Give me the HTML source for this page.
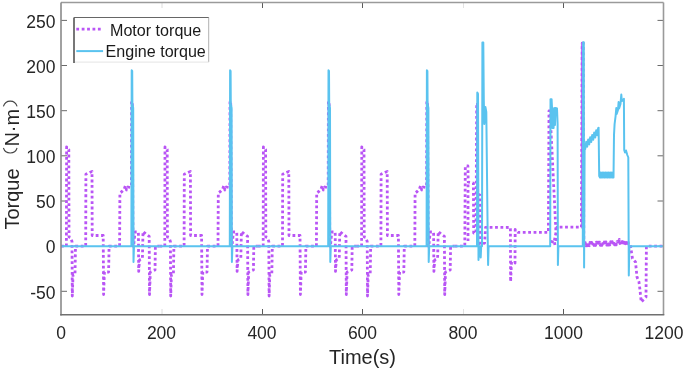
<!DOCTYPE html>
<html><head><meta charset="utf-8"><style>
html,body{margin:0;padding:0;background:#fff;width:685px;height:371px;overflow:hidden}
svg{display:block;filter:blur(0.4px)}
</style></head><body>
<svg width="685" height="371" viewBox="0 0 685 371">
<rect width="685" height="371" fill="#fff"/>
<g stroke="#6a6a6a" stroke-width="1">
<line x1="61" y1="20.4" x2="67" y2="20.4"/>
<line x1="657.5" y1="20.4" x2="663.5" y2="20.4"/>
<line x1="61" y1="65.5" x2="67" y2="65.5"/>
<line x1="657.5" y1="65.5" x2="663.5" y2="65.5"/>
<line x1="61" y1="110.7" x2="67" y2="110.7"/>
<line x1="657.5" y1="110.7" x2="663.5" y2="110.7"/>
<line x1="61" y1="155.8" x2="67" y2="155.8"/>
<line x1="657.5" y1="155.8" x2="663.5" y2="155.8"/>
<line x1="61" y1="201.0" x2="67" y2="201.0"/>
<line x1="657.5" y1="201.0" x2="663.5" y2="201.0"/>
<line x1="61" y1="246.2" x2="67" y2="246.2"/>
<line x1="657.5" y1="246.2" x2="663.5" y2="246.2"/>
<line x1="61" y1="291.3" x2="67" y2="291.3"/>
<line x1="657.5" y1="291.3" x2="663.5" y2="291.3"/>
<line x1="162.0" y1="309" x2="162.0" y2="314.8" stroke="#dcdcdc"/>
<line x1="162.0" y1="2.5" x2="162.0" y2="8" stroke="#dcdcdc"/>
<line x1="262.5" y1="309" x2="262.5" y2="314.8" stroke="#5a5a5a"/>
<line x1="262.5" y1="2.5" x2="262.5" y2="8" stroke="#5a5a5a"/>
<line x1="362.5" y1="309" x2="362.5" y2="314.8" stroke="#5a5a5a"/>
<line x1="362.5" y1="2.5" x2="362.5" y2="8" stroke="#5a5a5a"/>
<line x1="463.5" y1="309" x2="463.5" y2="314.8" stroke="#e2e2e2"/>
<line x1="463.5" y1="2.5" x2="463.5" y2="8" stroke="#e2e2e2"/>
<line x1="563.5" y1="309" x2="563.5" y2="314.8" stroke="#5a5a5a"/>
<line x1="563.5" y1="2.5" x2="563.5" y2="8" stroke="#5a5a5a"/>
</g>
<g fill="none" stroke-linejoin="round">
<polyline points="61.0,246.2 66.4,246.2 66.6,146.8 68.8,149.5 69.0,237.0 70.5,237.5 72.0,241.5 72.3,296.0 73.0,275.0 75.0,275.0 75.5,246.2 85.7,246.2 85.9,174.3 88.5,173.0 92.0,171.4 92.2,235.5 103.2,235.5 103.6,294.5 104.4,272.0 108.6,272.0 109.1,246.2 119.6,246.2 119.9,193.0 122.0,191.5 124.0,189.5 125.5,185.5 126.5,190.0 128.0,187.0 130.2,187.5 131.4,186.0 131.6,101.5 132.3,101.5 133.0,246.2 133.6,246.2 135.0,232.0 138.4,232.0 138.7,271.4 139.5,260.0 142.4,258.5 143.0,231.5 146.0,234.0 149.2,236.4 149.5,294.6 150.3,272.0 155.0,270.0 155.4,246.2 159.4,246.2" stroke="#b955f5" stroke-width="2.8" stroke-dasharray="2.8 2.6"/>
<polyline points="159.4,246.2 164.8,246.2 165.0,146.8 167.2,149.5 167.4,237.0 168.9,237.5 170.4,241.5 170.7,296.0 171.4,275.0 173.4,275.0 173.9,246.2 184.1,246.2 184.3,174.3 186.9,173.0 190.4,171.4 190.6,235.5 201.6,235.5 202.0,294.5 202.8,272.0 207.0,272.0 207.5,246.2 218.0,246.2 218.3,193.0 220.4,191.5 222.4,189.5 223.9,185.5 224.9,190.0 226.4,187.0 228.6,187.5 229.8,186.0 230.0,101.5 230.7,101.5 231.4,246.2 232.0,246.2 233.4,232.0 236.8,232.0 237.1,271.4 237.9,260.0 240.8,258.5 241.4,231.5 244.4,234.0 247.6,236.4 247.9,294.6 248.7,272.0 253.4,270.0 253.8,246.2 257.8,246.2" stroke="#b955f5" stroke-width="2.8" stroke-dasharray="2.8 2.6"/>
<polyline points="257.8,246.2 263.2,246.2 263.4,146.8 265.6,149.5 265.8,237.0 267.3,237.5 268.8,241.5 269.1,296.0 269.8,275.0 271.8,275.0 272.3,246.2 282.5,246.2 282.7,174.3 285.3,173.0 288.8,171.4 289.0,235.5 300.0,235.5 300.4,294.5 301.2,272.0 305.4,272.0 305.9,246.2 316.4,246.2 316.7,193.0 318.8,191.5 320.8,189.5 322.3,185.5 323.3,190.0 324.8,187.0 327.0,187.5 328.2,186.0 328.4,101.5 329.1,101.5 329.8,246.2 330.4,246.2 331.8,232.0 335.2,232.0 335.5,271.4 336.3,260.0 339.2,258.5 339.8,231.5 342.8,234.0 346.0,236.4 346.3,294.6 347.1,272.0 351.8,270.0 352.2,246.2 356.2,246.2" stroke="#b955f5" stroke-width="2.8" stroke-dasharray="2.8 2.6"/>
<polyline points="356.2,246.2 361.6,246.2 361.8,146.8 364.0,149.5 364.2,237.0 365.7,237.5 367.2,241.5 367.5,296.0 368.2,275.0 370.2,275.0 370.7,246.2 380.9,246.2 381.1,174.3 383.7,173.0 387.2,171.4 387.4,235.5 398.4,235.5 398.8,294.5 399.6,272.0 403.8,272.0 404.3,246.2 414.8,246.2 415.1,193.0 417.2,191.5 419.2,189.5 420.7,185.5 421.7,190.0 423.2,187.0 425.4,187.5 426.6,186.0 426.8,101.5 427.5,101.5 428.2,246.2 428.8,246.2 430.2,232.0 433.6,232.0 433.9,271.4 434.7,260.0 437.6,258.5 438.2,231.5 441.2,234.0 444.4,236.4 444.7,294.6 445.5,272.0 450.2,270.0 450.6,246.2 454.6,246.2" stroke="#b955f5" stroke-width="2.8" stroke-dasharray="2.8 2.6"/>
<polyline points="454.6,246.2 464.8,246.2 465.3,166.0 467.9,166.0 468.2,182.0 473.4,183.0 473.7,233.0 476.0,233.0 476.7,103.0 477.4,103.0 477.7,194.0 479.9,195.0 480.2,244.0 482.0,244.5 484.6,243.0 485.6,227.3 510.4,227.5 510.6,281.6 511.5,262.0 515.0,263.0 515.2,229.5 517.8,232.3 548.4,232.3 549.0,110.9 550.0,110.9 555.8,228.5 556.2,243.4 553.0,244.0 551.5,241.5 554.0,242.5 557.0,227.2 581.4,227.2 582.2,43.2 583.2,43.2 583.8,243.5 584.5,245.8 585.3,242.6 586.1,245.8 586.9,242.5 587.7,245.7 588.5,242.5 589.3,245.7 590.0,242.4 590.8,245.6 591.6,242.4 592.4,245.6 593.2,242.3 594.0,245.5 594.8,242.3 595.6,245.5 596.4,242.2 597.2,245.4 598.0,242.2 598.8,245.4 599.6,242.1 600.4,245.3 601.1,242.1 601.9,245.3 602.7,242.0 603.5,245.2 604.3,242.0 605.1,245.2 605.9,241.9 606.7,245.1 607.5,241.9 608.3,245.1 609.1,241.8 609.9,245.0 610.7,241.8 611.5,245.0 612.2,241.7 613.0,244.9 613.8,241.7 614.6,244.9 615.4,241.6 616.2,244.8 617.0,241.6 617.8,241.5 618.6,244.0 619.3,239.5 620.0,243.5 620.8,240.5 621.5,244.5 622.3,241.5 623.0,245.0 623.8,242.0 624.6,245.0 625.4,242.5 626.2,245.0 627.0,242.5 627.8,245.0 628.5,243.0 630.0,243.0 632.5,258.6 635.5,262.0 637.0,277.0 639.0,282.0 640.0,290.0 641.2,302.0 646.0,297.0 646.4,246.2 664.0,246.2" stroke="#b955f5" stroke-width="2.8" stroke-dasharray="2.8 2.6"/>
<polyline points="468.0,184.5 468.0,241.0" stroke="#b955f5" stroke-width="2.8" stroke-dasharray="2.8 2.6"/>
<line x1="581.7" y1="43.5" x2="581.7" y2="227" stroke="#b955f5" stroke-width="1.6" stroke-opacity="0.85"/>
<polyline points="61.0,246.2 131.4,246.2 131.7,70.2 132.2,71.0 132.4,104.0 133.2,108.0 133.5,262.0 134.0,246.2 159.4,246.2" stroke="#5ac3ef" stroke-width="2"/>
<polyline points="159.4,246.2 229.8,246.2 230.1,70.2 230.6,71.0 230.8,104.0 231.6,108.0 231.9,262.0 232.4,246.2 257.8,246.2" stroke="#5ac3ef" stroke-width="2"/>
<polyline points="257.8,246.2 328.2,246.2 328.5,70.2 329.0,71.0 329.2,104.0 330.0,108.0 330.3,262.0 330.8,246.2 356.2,246.2" stroke="#5ac3ef" stroke-width="2"/>
<polyline points="356.2,246.2 426.6,246.2 426.9,70.2 427.4,71.0 427.6,104.0 428.4,108.0 428.7,262.0 429.2,246.2 454.6,246.2" stroke="#5ac3ef" stroke-width="2"/>
<polyline points="454.6,246.2 477.0,246.2 477.3,92.4 478.0,94.0 478.5,260.0 479.1,246.2 480.4,246.2 480.7,257.4 481.2,246.2 482.0,246.2 482.4,42.5 483.3,42.5 483.8,100.0 484.3,124.0 485.4,107.0 486.3,112.0 487.8,246.2 488.1,265.0 488.6,246.2 550.2,246.2 550.5,99.2 551.6,99.2 552.0,107.5 552.3,128.0 552.8,109.0 553.6,128.0 554.2,108.0 555.0,125.0 555.5,108.0 557.0,108.5 557.6,124.0 557.9,265.0 558.4,246.2 582.8,246.2 583.1,42.3 583.8,42.3 584.1,267.5 584.6,150.0 585.2,149.0 586.2,141.8 587.2,146.7 588.2,139.5 589.2,144.4 590.2,137.2 591.2,142.1 592.2,134.9 593.2,139.8 594.2,132.6 595.2,137.5 596.2,130.3 597.2,135.2 598.2,128.0 598.6,127.7 599.2,176.0 600.0,177.5 600.6,172.5 601.4,177.5 602.2,172.5 603.0,177.5 603.8,172.5 604.6,177.5 605.4,172.5 606.2,177.5 607.0,172.5 607.8,177.5 608.6,172.5 609.4,177.5 610.2,172.5 611.0,177.5 611.8,172.5 612.6,177.5 613.5,177.5 614.0,135.0 614.6,124.0 615.6,116.0 616.3,108.0 616.7,114.0 618.0,110.0 618.6,102.0 619.1,108.5 620.5,104.0 621.3,94.5 621.8,101.0 623.0,100.0 623.9,98.8 624.2,150.0 625.0,152.5 626.0,150.5 627.3,155.0 628.3,157.5 628.8,275.6 629.4,246.2 664.0,246.2" stroke="#5ac3ef" stroke-width="2"/>
</g>
<g stroke-width="1.6" fill="none">
<line x1="61" y1="2.5" x2="663.5" y2="2.5" stroke="#9a9a9a"/>
<line x1="663.5" y1="2.5" x2="663.5" y2="314.8" stroke="#9a9a9a"/>
<line x1="61" y1="2.5" x2="61" y2="315.6" stroke="#8a8a8a"/>
<line x1="60.2" y1="314.8" x2="664.3" y2="314.8" stroke="#707070"/>
</g>
<g font-family="&quot;Liberation Sans&quot;, sans-serif" font-size="17.5" fill="#262626">
<text x="55.5" y="28" text-anchor="end">250</text>
<text x="55.5" y="73" text-anchor="end">200</text>
<text x="55.5" y="118" text-anchor="end">150</text>
<text x="55.5" y="163" text-anchor="end">100</text>
<text x="55.5" y="208" text-anchor="end">50</text>
<text x="55.5" y="253" text-anchor="end">0</text>
<text x="55.5" y="299" text-anchor="end">-50</text>
<text x="61" y="339.3" text-anchor="middle">0</text>
<text x="161.5" y="339.3" text-anchor="middle">200</text>
<text x="262" y="339.3" text-anchor="middle">400</text>
<text x="362.5" y="339.3" text-anchor="middle">600</text>
<text x="463" y="339.3" text-anchor="middle">800</text>
<text x="563.5" y="339.3" text-anchor="middle">1000</text>
<text x="664" y="339.3" text-anchor="middle">1200</text>
</g>
<text x="362.5" y="364.2" text-anchor="middle" font-family="&quot;Liberation Sans&quot;, sans-serif" font-size="20" fill="#262626">Time(s)</text>
<g font-family="&quot;Liberation Sans&quot;, sans-serif" font-size="20" fill="#262626">
<text transform="translate(18.9,229.6) rotate(-90)">Torque</text>
<text transform="translate(18.9,146.6) rotate(-90)">N·m</text>
</g>
<path d="M3.4,148.0 C5.6,154.6 14.9,154.6 17.1,148.0 M3.4,106.4 C5.6,99.4 14.9,99.4 17.1,106.4" fill="none" stroke="#444" stroke-width="1.1"/>
<rect x="74" y="17.5" width="134.7" height="44.6" fill="#fff" stroke="none"/>
<line x1="208.7" y1="17.5" x2="208.7" y2="62.1" stroke="#b0b0b0" stroke-width="1"/>
<line x1="74" y1="62.1" x2="208.7" y2="62.1" stroke="#e4e4e4" stroke-width="1"/>
<line x1="74" y1="17.5" x2="74" y2="63" stroke="#555" stroke-width="1.6"/>
<line x1="74" y1="17.5" x2="208.7" y2="17.5" stroke="#666" stroke-width="1.2"/>
<line x1="76.3" y1="29.1" x2="103" y2="29.1" stroke="#b955f5" stroke-width="2.8" stroke-dasharray="2.8 2.6"/>
<line x1="76.3" y1="51.1" x2="103.1" y2="51.1" stroke="#5ac3ef" stroke-width="2"/>
<g font-family="&quot;Liberation Sans&quot;, sans-serif" font-size="16.1" fill="#1a1a1a">
<text x="110" y="35.6">Motor torque</text>
<text x="105.6" y="57.1">Engine torque</text>
</g>
</svg>
</body></html>
